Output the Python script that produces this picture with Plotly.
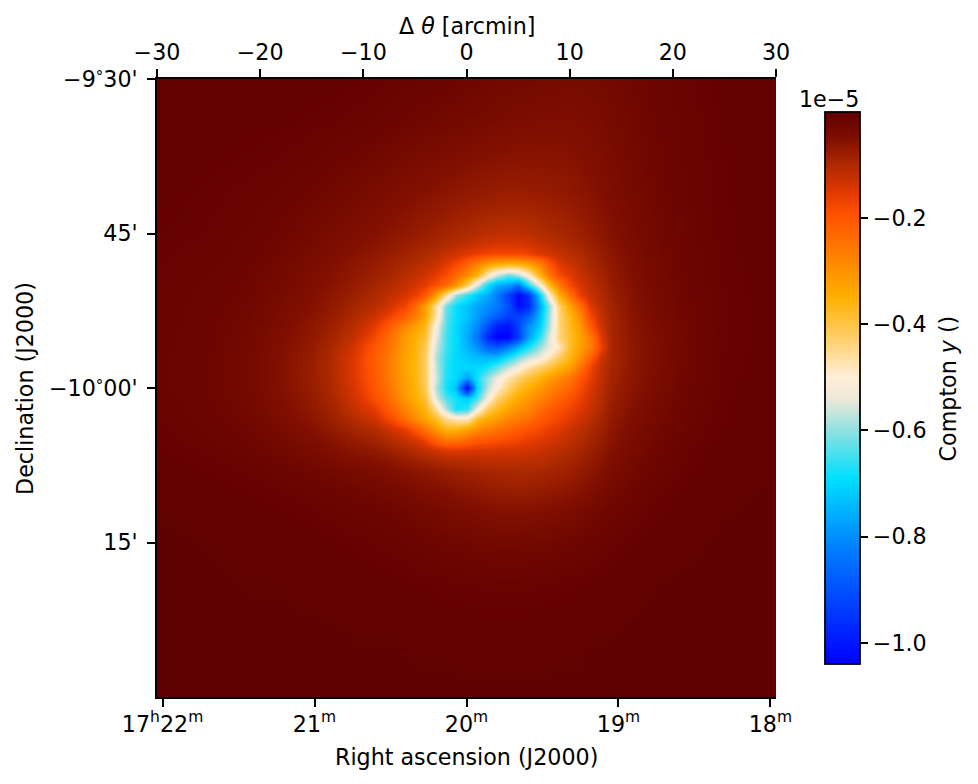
import plotly.graph_objects as go

# Sky offsets of the map samples from the field centre, in arcmin
offset_x = [-30, -25, -21, -18, -15, -13, -11, -9,
            -8, -7, -6, -5, -4, -3, -2, -1,
            0, 1, 2, 3, 4, 5, 6, 7,
            8, 9, 10, 11, 12, 13, 14, 16,
            18, 21, 25, 30]
offset_y = [30, 26, 22, 19, 17, 15, 14, 13, 12, 11, 10, 9, 8, 7, 6, 5, 4, 3, 2, 1, 0,
            -1, -2, -3, -4, -5, -6, -7, -8, -10, -12, -15, -19, -24, -30]

# Compton y decrement magnitude per sample, in units of 1e-7 (rows run north to south)
decrement = [
    [.3,.3,.3,.4,.5,.6,.7,.8, 1,1.1,1.3,1.4,1.5,1.6,1.8,2, 2.2,2.4,2.6,2.8,3,3.1,3.2,3.3, 3.4,3.5,3.6,3.6,3.5,3.3,3,2.5, 1.8,1.2,.6,.3],
    [.4,.5,.6,.7,.9,1,1.2,1.5, 1.7,1.9,2.1,2.3,2.5,2.7,2.9,3.1, 3.3,3.5,3.7,3.9,4.1,4.3,4.4,4.5, 4.6,4.6,4.6,4.5,4.3,4,3.6,2.8, 2.1,1.4,.7,.4],
    [.5,.7,.9,1.1,1.5,1.9,2.3,2.8, 3.1,3.4,3.7,4,4.2,4.4,4.7,4.9, 5.2,5.4,5.6,5.8,5.9,6,6,6, 6,5.9,5.7,5.4,5,4.6,4.1,3.2, 2.4,1.5,.8,.4],
    [.6,.9,1.2,1.6,2.2,2.7,3.3,3.9, 4.2,4.6,4.9,5.2,5.5,5.8,6.1,6.4, 6.8,7,7.3,7.5,7.6,7.6,7.5,7.4, 7.2,7,6.6,6.2,5.7,5.1,4.5,3.5, 2.6,1.6,.8,.4],
    [.7,1,1.4,2,2.7,3.3,4,4.6, 5,5.4,5.8,6.2,6.6,7,7.4,7.9, 8.3,8.7,9,9.3,9.5,9.5,9.3,9, 8.6,8.2,7.7,7.1,6.5,5.7,5,3.8, 2.8,1.7,.9,.4],
    [.8,1.1,1.6,2.3,3.2,3.9,4.7,5.4, 5.9,6.3,6.8,7.3,7.8,8.4,9,9.6, 10.2,10.8,11.3,11.7,12,11.8,11.3,10.7, 10,9.4,8.8,8.1,7.3,6.4,5.5,4.1, 3,1.8,.9,.4],
    [.9,1.2,1.7,2.5,3.5,4.3,5.1,6, 6.5,7,7.6,8.2,8.8,9.5,10.3,11.1, 12,12.8,13.5,14,14.2,14,13.4,12.6, 11.6,10.7,9.8,9,8,6.9,5.9,4.3, 3.1,1.9,.9,.4],
    [.9,1.3,1.8,2.7,3.8,4.7,5.6,6.6, 7.2,7.9,8.5,9.2,10,11,12.2,13.5, 15,16.5,17.5,18,18,18,17,15, 13.6,12.4,11.2,10,8.8,7.5,6.3,4.6, 3.2,1.9,1,.4],
    [1,1.4,2,3,4.2,5.1,6.2,7.3, 8,8.8,9.6,10.5,11.5,12.8,15,18, 22,27,32,35,36,36,33,28, 20,15,12.8,11.2,9.6,8,6.7,4.8, 3.4,2,1,.4],
    [1,1.5,2.2,3.2,4.5,5.5,6.7,8, 8.8,9.7,10.8,12,13.5,15.5,18.5,23, 29,36,48,56,62,58,50,37, 25,18,15,12.5,10.6,8.8,7.2,5, 3.5,2.1,1,.4],
    [1.1,1.6,2.3,3.4,4.8,5.9,7.2,8.8, 9.8,11,12.2,13.8,15.5,19,23,30, 42,55,68,76,78,84,68,53, 37,26,18,14,11.5,9.5,7.6,5.3, 3.7,2.2,1,.5],
    [1.1,1.7,2.4,3.6,5.1,6.4,7.9,9.8, 11,12.4,14,16,20,32,46,60, 66,72,76,83,93,103,96,72, 50,35,24,16,12.6,10.2,8.1,5.5, 3.9,2.3,1.1,.5],
    [1.2,1.8,2.6,3.9,5.5,7,8.8,11, 12.5,14.5,17,23,32,46,62,69, 73,77,80,83,90,102,98,78, 60,43,33,24,15,11,8.6,5.8, 4,2.4,1.1,.5],
    [1.2,1.8,2.7,4.1,5.9,7.5,9.8,12.6, 15,18,21.5,26,33,47,63,69, 73,78,83,88,93,93,88,75, 59,44,36,28,18,12,9,6, 4.2,2.5,1.1,.5],
    [1.2,1.9,2.9,4.4,6.4,8.2,10.8,15, 19,23,28,32,37,52,64,70, 75,81,90,99,101,92,80,72, 58,44,37,31,21,13,9.2,6.2, 4.5,2.6,1.1,.5],
    [1.3,2,3.1,4.7,6.8,8.8,12,17.5, 21.5,26,31.5,35,39,54,65,70, 76,84,97,104,104,94,78,67, 55,44,38,33,26,15,9.4,6.4, 4.7,2.7,1.1,.5],
    [1.3,2,3.2,5,7.3,9.5,13.5,20, 23,27,32,35.5,41,56,65,70, 75,80,87,89,83,75,68,60, 54,48,38,32,27,17,9.5,6.5, 4.9,2.7,1.1,.5],
    [1.3,2.1,3.3,5.2,7.6,10,14.5,21, 24,28,33,36,42,58,66,70, 72,74,75,74,68,62,57,54, 48,42,36,30,22,13,9.5,6.5, 4.9,2.6,1,.5],
    [1.3,2.1,3.3,5.3,7.7,10.2,14.8,21, 24,28,33,36,42,57,67,70, 70,70,68,63,57,52,47,43, 40,36,32,25,17,12,9.2,6.4, 4.8,2.5,1,.5],
    [1.3,2.1,3.3,5.3,7.7,10.1,14.5,20.5, 24,28,32.5,36,42,56,67,70, 78,68,60,53,47,43,39,36, 32,29,25,20,16,11.6,8.8,6.2, 4.6,2.4,1,.4],
    [1.3,2.1,3.3,5.2,7.5,9.8,13.8,19.8, 23,27,32,35.5,41,58,68,74, 104,70,58,50,43,38,35,31, 28,25,22,18,14.5,11,8.4,6, 4.4,2.3,.9,.4],
    [1.2,2,3.2,5,7.2,9.3,13,18.5, 21.5,26,31,34.5,39,55,64,68, 72,65,53,43,38,34,31,28, 25,22,19,16.5,13.5,10.4,8,5.6, 4.1,2.1,.9,.4],
    [1.1,1.9,3,4.7,6.8,8.7,12,15.5, 19,23,28,32,36,46,58,68, 66,53,42,37,33,30,28,24, 21,19,17,14.8,12.3,9.8,7.5,5.2, 3.8,2,.8,.4],
    [1,1.8,2.8,4.3,6.2,8,10.5,13, 16,19,24,29,33,38,45,48, 48,38,34,31,28,26,24,21, 19,17,15,13,11,9,7,4.9, 3.5,1.8,.8,.3],
    [.9,1.6,2.5,3.8,5.5,7,8.8,10.5, 12,14,16,20,25,31,36,36, 33,29,27,25,23,21,19,18, 16,15,13,11.4,9.8,8.2,6.4,4.5, 3.1,1.6,.7,.3],
    [.8,1.4,2.2,3.3,4.7,5.9,7.3,8.6, 9.5,10.8,12.2,14,16.5,22,25,25, 23,20.5,20,19,18,17,16,15, 14,13,11.5,10.2,8.8,7.4,5.9,4.1, 2.8,1.4,.6,.3],
    [.7,1.2,1.9,2.8,3.9,4.9,6,6.9, 7.6,8.5,9.5,10.6,12,13.5,15,15, 15,14.5,14.3,14.2,14,13.8,13.3,12.8, 12,11.2,10.2,9.2,8,6.7,5.4,3.7, 2.5,1.2,.5,.2],
    [.6,1,1.5,2.3,3.2,4,4.8,5.6, 6.1,6.8,7.5,8.2,9,9.8,10.4,10.8, 11,11.2,11.4,11.5,11.6,11.6,11.4,11, 10.5,9.9,9.1,8.2,7.2,6.1,4.9,3.3, 2.2,1.1,.5,.2],
    [.5,.8,1.2,1.8,2.5,3.1,3.8,4.4, 4.8,5.2,5.7,6.2,6.8,7.3,7.8,8.2, 8.6,9,9.4,9.6,9.8,9.9,9.8,9.5, 9.1,8.6,8,7.3,6.4,5.4,4.4,3, 2,1,.4,.2],
    [.3,.5,.8,1.1,1.6,2,2.4,2.8, 3.1,3.4,3.8,4.2,4.6,5,5.4,5.8, 6.2,6.6,7,7.3,7.6,7.7,7.6,7.4, 7,6.6,6.1,5.5,4.8,4,3.2,2.2, 1.4,.7,.3,.1],
    [.2,.3,.5,.7,1,1.3,1.6,1.9, 2.1,2.3,2.6,2.9,3.2,3.5,3.8,4.1, 4.4,4.7,5,5.2,5.3,5.3,5.2,5, 4.8,4.5,4.1,3.7,3.2,2.7,2.2,1.5, 1,.5,.2,.1],
    [.1,.2,.3,.4,.6,.7,.9,1.1, 1.2,1.3,1.5,1.7,1.9,2.1,2.3,2.4, 2.6,2.8,2.9,3,3,3,2.9,2.8, 2.7,2.5,2.3,2.1,1.8,1.5,1.2,.8, .5,.3,.1,.1],
    [.1,.1,.2,.2,.3,.4,.4,.5, .6,.6,.7,.8,.8,.9,1,1, 1.1,1.1,1.2,1.2,1.2,1.2,1.2,1.1, 1.1,1,.9,.8,.7,.6,.5,.3, .2,.1,.1,0],
    [0,.1,.1,.1,.1,.1,.2,.2, .2,.2,.2,.3,.3,.3,.3,.3, .4,.4,.4,.4,.4,.4,.4,.4, .3,.3,.3,.3,.2,.2,.2,.1, .1,.1,0,0],
    [0,0,0,0,0,0,0,0, 0,0,0,.1,.1,.1,.1,.1, .1,.1,.1,.1,.1,.1,.1,.1, .1,.1,.1,.1,0,0,0,0, 0,0,0,0],
]

# Colour ramp of the map: value in units of 1e-5, then the colour at that value
ramp_values = [-1.04, -0.82, -0.69, -0.60, -0.54, -0.50, -0.42, -0.35, -0.19, -0.15, -0.10, -0.05, 0.0]
ramp_colours = ["#0000ff", "#0080ff", "#00e0ff", "#90e0e0", "#eee8d8", "#ffeed8", "#ffcc60",
                "#ffb000", "#ff5000", "#e03800", "#ae2a00", "#800f00", "#600000"]

z_min, z_max = -1.04, 0.0
colorscale = [[(v - z_min) / (z_max - z_min), c] for v, c in zip(ramp_values, ramp_colours)]
z_map = [[-m / 100 for m in row] for row in decrement]

# Axis labelling; the degree sign is set small and raised to sit level with the digits
DEG = '<span style="font-size:15px;baseline-shift:5px">\u00b0</span>'
theta_ticks = [-30, -20, -10, 0, 10, 20, 30]
ra_ticks = [22, 21, 20, 19, 18]
ra_labels = ["17<sup>h</sup>22<sup>m</sup>", "21<sup>m</sup>", "20<sup>m</sup>", "19<sup>m</sup>", "18<sup>m</sup>"]
dec_ticks = [30, 15, 0, -15]
dec_labels = ["\u22129" + DEG + "30'", "45'", "\u221210" + DEG + "00'", "15'"]
cbar_ticks = [-0.2, -0.4, -0.6, -0.8, -1.0]

FONT = "DejaVu Sans"
FS = 22.2
ARCMIN_PER_RA_MINUTE = 14.73
ra_half_span = 30 / ARCMIN_PER_RA_MINUTE

W, H = 978, 784
L, R, T, B = 157, 775.7, 79, 697


def px_x(p):
    return (p - L) / (R - L)


def px_y(p):
    return (B - p) / (B - T)


axis_style = dict(showline=True, linecolor="black", linewidth=1.8, ticks="outside", ticklen=8,
                  tickwidth=1.8, tickcolor="black", showgrid=False, zeroline=False,
                  tickfont=dict(family=FONT, size=FS, color="black"))
text_font = dict(family=FONT, size=FS, color="black")

fig = go.Figure()
fig.add_trace(go.Heatmap(
    x=offset_x, y=offset_y, z=z_map, xaxis="x2", yaxis="y",
    zmin=z_min, zmax=z_max, colorscale=colorscale, zsmooth="best", hoverinfo="skip",
    colorbar=dict(
        x=px_x(825), xanchor="left", xpad=0,
        y=px_y(664), yanchor="bottom", ypad=0,
        len=(664 - 112) / (B - T), lenmode="fraction",
        thickness=35, thicknessmode="pixels",
        outlinewidth=1.8, outlinecolor="black",
        tickmode="array", tickvals=cbar_ticks, tickformat=".1f",
        ticks="outside", ticklen=8, tickwidth=1.8, tickcolor="black",
        tickfont=text_font,
    ),
))
# Carries the right-ascension axis along the bottom edge
fig.add_trace(go.Scatter(x=ra_ticks, y=[0] * len(ra_ticks), xaxis="x", yaxis="y", mode="markers",
                         marker=dict(opacity=0), hoverinfo="skip", showlegend=False))


def label(text, x, y, angle=0, xanchor="center"):
    return dict(text=text, xref="paper", yref="paper", x=px_x(x), y=px_y(y), xanchor=xanchor,
                yanchor="middle", textangle=angle, showarrow=False, font=text_font, borderpad=0)


fig.update_layout(
    width=W, height=H, autosize=False,
    margin=dict(l=L, r=W - R, t=T, b=H - B, pad=0),
    paper_bgcolor="white", plot_bgcolor="white",
    font=text_font,
    showlegend=False,
    xaxis=dict(axis_style, side="bottom", range=[20 + ra_half_span, 20 - ra_half_span],
               tickmode="array", tickvals=ra_ticks, ticktext=ra_labels, ticklabelstandoff=-2),
    xaxis2=dict(axis_style, side="top", overlaying="x", anchor="y", range=[-30, 30],
                tickmode="array", tickvals=theta_ticks),
    yaxis=dict(axis_style, range=[-30, 30], tickmode="array", tickvals=dec_ticks, ticktext=dec_labels,
               ticklabelstandoff=5),
    annotations=[
        label("Right ascension (J2000)", 466, 757),
        label("\u0394 <i>\u03b8</i> [arcmin]", 467, 26),
        label("Declination (J2000)", 25, 388, angle=-90),
        label("1e\u22125", 860, 99, xanchor="right"),
        label("Compton <i>y</i> ()", 948, 388, angle=-90),
    ],
)

fig.write_html("out.html", config=dict(displayModeBar=False))
